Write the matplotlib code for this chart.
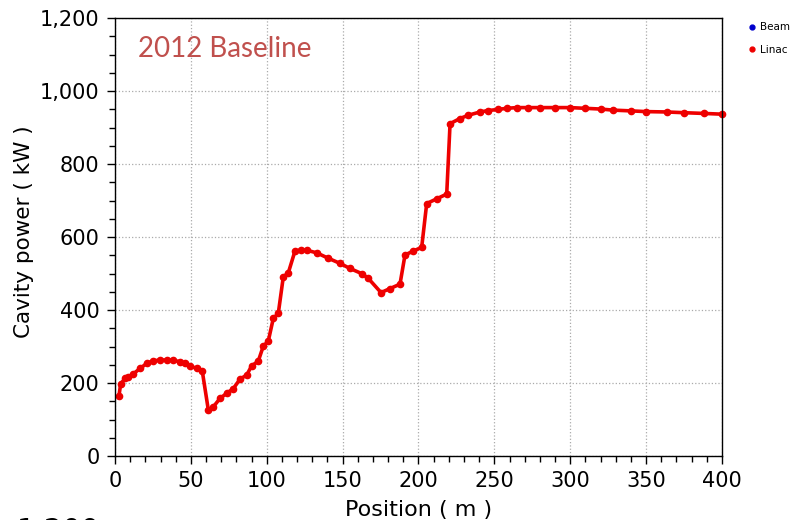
import matplotlib
matplotlib.use("Agg")
import matplotlib.pyplot as plt
from matplotlib.lines import Line2D
from matplotlib.ticker import MultipleLocator, FuncFormatter

position = [2.6, 3.7, 6.6, 8.8, 12, 16.5, 20.9, 25.3, 29.7, 34, 38.4, 42.8, 46, 49.4,
            53.8, 57.5, 61.5, 64.8, 69.2, 73.6, 78, 82.4, 86.8, 90, 94.4, 97.7, 101,
            104.3, 107.6, 110.9, 114.2, 118.6, 122.5, 126.3, 132.9, 140.6, 148.3, 154.9,
            162.6, 166.9, 175.3, 181.2, 187.8, 191.1, 196.6, 202.1, 205.4, 212, 218.6,
            220.8, 227.3, 232.8, 240.5, 246, 252.6, 258, 264.7, 272, 280, 290, 299.8,
            310, 320, 328.4, 340, 350, 363.5, 375, 388, 399.8]
power = [165, 197, 213, 217, 225, 240, 254, 261, 263, 263, 263, 258, 254, 247,
         240, 233, 126, 135, 158, 172, 185, 211, 222, 247, 260, 301, 315,
         377, 391, 491, 502, 562, 564, 564, 557, 542, 528, 514,
         500, 487, 448, 459, 471, 551, 562, 572, 692, 705, 718,
         911, 925, 934, 943, 947, 950, 953, 955, 955, 955, 955, 955,
         953, 951, 948, 946, 944, 943, 941, 939, 937]

series_names = ["Beam", "Linac"]
series_colors = ["#0000CC", "#EE0000"]

plt.rcParams['font.family'] = ['DejaVu Sans']

fig = plt.figure(figsize=(7.96, 5.2), dpi=100)
ax = fig.add_axes([0.1445, 0.123, 0.7625, 0.842])

ax.plot(position, power, '-o', color=series_colors[1],
        linewidth=2.6, markersize=4.5, clip_on=False)

ax.set_xlim(0, 400)
ax.set_ylim(0, 1200)
ax.xaxis.set_major_locator(MultipleLocator(50))
ax.xaxis.set_minor_locator(MultipleLocator(10))
ax.yaxis.set_major_locator(MultipleLocator(200))
ax.yaxis.set_minor_locator(MultipleLocator(50))
ax.yaxis.set_major_formatter(FuncFormatter(lambda v, p: f"{int(v):,}"))

ax.tick_params(which='major', length=6, width=1, labelsize=15, pad=5)
ax.tick_params(which='minor', length=4, width=1)
ax.grid(True, which='major', linestyle=':', color='#AAAAAA', linewidth=0.9)
for s in ax.spines.values():
    s.set_linewidth(1)

ax.set_ylabel("Cavity power ( kW )", fontsize=15.5)
ax.yaxis.set_label_coords(-0.133, 0.513)
ax.set_xlabel("Position ( m )", fontsize=16, labelpad=6)

ax.text(0.038, 0.93, "2012 Baseline", transform=ax.transAxes, fontsize=20,
        color='#C0504D', family='Lato', va='center', ha='left')

handles = [Line2D([], [], linestyle='none', marker='o', markersize=3.5, color=c)
           for c in series_colors]
ax.legend(handles, series_names, loc='upper left', bbox_to_anchor=(0.935, 0.965),
          bbox_transform=fig.transFigure, frameon=False, fontsize=7.5,
          handlelength=0.6, handletextpad=0.5, labelspacing=1.2, borderaxespad=0)

# top of the next panel's label, cut off by the bottom edge
fig.text(0.126, 0.006, "1,200", fontsize=21, ha='right', va='top')

fig.savefig("out.png", dpi=100)
